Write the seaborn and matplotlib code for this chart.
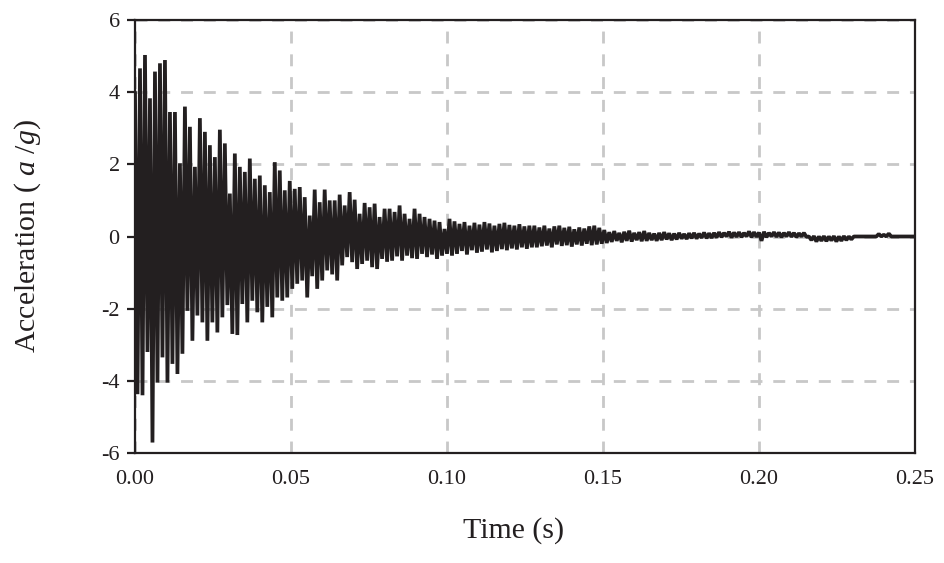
import numpy as np
import pandas as pd
import matplotlib
matplotlib.use("Agg")
import matplotlib.pyplot as plt
import seaborn as sns

# ---- data (peak values per oscillation cycle) ----
cycle_period = 0.0016  # s, one up/down cycle

pos_peaks = [
    # 0.000-0.022 s
    4.00, 4.66, 5.03, 3.83, 4.57, 4.80, 4.89, 3.45, 3.45, 2.03, 3.60, 3.04, 1.93, 3.28,
    # 0.022-0.048 s
    2.90, 2.53, 2.20, 2.96, 2.58, 1.19, 2.30, 1.93, 1.79, 2.16, 1.60, 1.69, 1.42, 1.23, 2.06, 1.83,
    # 0.048-0.102 s
    1.28, 1.54, 1.32, 1.37, 1.09, 0.58, 1.30, 0.95, 1.30, 1.00, 1.00, 1.16, 0.86, 1.23, 1.02, 0.63,
    0.93, 0.81, 0.91, 0.54, 0.77, 0.77, 0.68, 0.86, 0.63, 0.49, 0.77, 0.63, 0.54, 0.49, 0.44, 0.40,
    0.21, 0.49,
    # 0.102-0.128 s
    0.42, 0.35, 0.40, 0.30, 0.38, 0.33, 0.40, 0.36, 0.30, 0.35, 0.38, 0.32, 0.30, 0.34, 0.28, 0.30,
    # 0.128-0.150 s
    0.30, 0.25, 0.30, 0.22, 0.28, 0.30, 0.24, 0.27, 0.20, 0.25, 0.22, 0.28, 0.30, 0.24,
    # 0.150-0.172 s
    0.18, 0.12, 0.15, 0.10, 0.13, 0.16, 0.10, 0.12, 0.15, 0.10, 0.08, 0.10, 0.12, 0.09,
    # 0.172-0.186 s
    0.08, 0.10, 0.07, 0.09, 0.10, 0.08, 0.11, 0.09, 0.10,
    # 0.187-0.215 s
    0.12, 0.10, 0.13, 0.11, 0.12, 0.10, 0.14, 0.12, 0.11, 0.13, 0.10, 0.12, 0.11, 0.10, 0.12, 0.10,
    0.09, 0.10,
    # 0.216-0.229 s
    0.00, 0.01, 0.00, 0.01, 0.00, 0.01, 0.00, 0.01, 0.00,
    # 0.230-0.237 s
    0.00, 0.00, 0.00, 0.00, 0.00,
    # 0.238-0.242 s
    0.07, 0.05, 0.08,
    # 0.243-0.250 s
    0.00, 0.00, 0.00, 0.00, 0.00,
]

neg_peaks = [
    -4.37, -4.40, -3.20, -5.71, -4.05, -3.35, -4.05, -3.53, -3.81, -3.25, -2.06, -2.89, -2.19, -2.38,
    -2.89, -2.38, -2.66, -2.24, -1.90, -2.70, -2.73, -1.87, -2.38, -1.78, -2.10, -2.38, -1.95, -2.24,
    -1.69, -1.78,
    -1.69, -1.45, -1.31, -1.22, -1.69, -1.10, -1.45, -1.22, -0.94, -1.05, -1.22, -0.80, -0.57, -0.71,
    -0.90, -0.76, -0.67, -0.85, -0.90, -0.62, -0.70, -0.67, -0.55, -0.67, -0.53, -0.60, -0.62, -0.48,
    -0.57, -0.50, -0.62, -0.53, -0.48, -0.53,
    -0.48, -0.40, -0.50, -0.38, -0.45, -0.42, -0.36, -0.44, -0.40, -0.35, -0.38, -0.33, -0.36, -0.30,
    -0.34, -0.30,
    -0.30, -0.27, -0.25, -0.30, -0.22, -0.26, -0.24, -0.28, -0.22, -0.25, -0.20, -0.24, -0.22, -0.20,
    -0.18, -0.15, -0.12, -0.16, -0.12, -0.14, -0.10, -0.13, -0.12, -0.10, -0.12, -0.10, -0.08, -0.10,
    -0.08, -0.06, -0.07, -0.05, -0.06, -0.04, -0.05, -0.04, -0.03,
    -0.02, 0.00, -0.03, -0.01, -0.02, 0.00, -0.02, -0.01, -0.12, -0.02, 0.00, -0.01, -0.02, 0.00,
    -0.01, -0.02, 0.00, -0.01,
    -0.10, -0.14, -0.12, -0.13, -0.11, -0.14, -0.12, -0.10, -0.08,
    0.00, 0.00, 0.00, 0.00, 0.00,
    0.00, 0.00, 0.00,
    0.00, 0.00, 0.00, 0.00, 0.00,
]

x_ticks = [0.00, 0.05, 0.10, 0.15, 0.20, 0.25]
x_tick_labels = ["0.00", "0.05", "0.10", "0.15", "0.20", "0.25"]
y_ticks = [-6, -4, -2, 0, 2, 4, 6]
y_tick_labels = ["-6", "-4", "-2", "0", "2", "4", "6"]

# interleave peaks into one signal sampled every half cycle
n = min(len(pos_peaks), len(neg_peaks))
accel = np.empty(2 * n)
accel[0::2] = pos_peaks[:n]
accel[1::2] = neg_peaks[:n]
time = np.arange(2 * n) * (cycle_period / 2)
df = pd.DataFrame({"Time": time, "Acceleration": accel})

# ---- style ----
sns.set_theme(style="white")
plt.rcParams["font.family"] = ["Liberation Serif", "DejaVu Serif"]
plt.rcParams["mathtext.fontset"] = "custom"
plt.rcParams["mathtext.rm"] = "Liberation Serif"
plt.rcParams["mathtext.it"] = "Liberation Serif:italic"

fig = plt.figure(figsize=(9.45, 5.63), dpi=100)
ax = fig.add_axes([135 / 945, 1 - 453 / 563, (915 - 135) / 945, (453 - 20) / 563])

sns.lineplot(data=df, x="Time", y="Acceleration", ax=ax, color="#231f20",
             linewidth=2.7, estimator=None, sort=False, zorder=3)
ax.lines[-1].set_solid_joinstyle("bevel")

ax.set_xlim(0, 0.25)
ax.set_ylim(-6, 6)
ax.set_xticks(x_ticks)
ax.set_xticklabels(x_tick_labels)
ax.set_yticks(y_ticks)
ax.set_yticklabels(y_tick_labels)

ax.grid(True, color="#c8c8c8", linestyle=(0, (4.3, 3.9)), linewidth=2.0, zorder=0)
ax.set_axisbelow(True)

for s in ax.spines.values():
    s.set_color("#231f20")
    s.set_linewidth(1.6)
    s.set_visible(True)
    s.set_zorder(4)

ax.tick_params(axis="x", length=0, pad=12, labelsize=16, colors="#231f20")
ax.tick_params(axis="y", left=True, length=6, width=1.6, direction="out", pad=5,
               labelsize=16, colors="#231f20")

ax.set_xlabel("Time (s)", fontsize=21.5, color="#231f20")
ax.xaxis.set_label_coords(0.485, -0.147)
ax.set_ylabel("Acceleration ( $\\it{a}$ /$\\it{g}$)", fontsize=21.5, color="#231f20", labelpad=42)

fig.savefig("out.png", dpi=100)
